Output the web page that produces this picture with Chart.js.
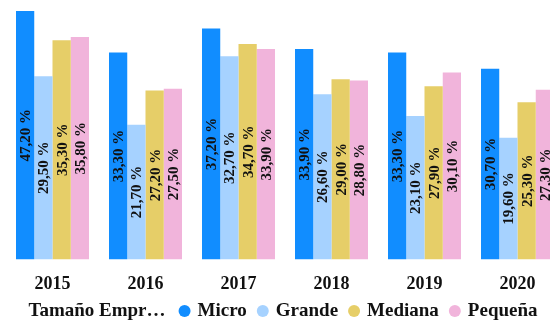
<!DOCTYPE html>
<html>
<head>
<meta charset="utf-8">
<script src="https://cdn.jsdelivr.net/npm/chart.js@4"></script>
<style>
  html, body { margin: 0; padding: 0; background: #fff; overflow: hidden; }
  #wrap { width: 566px; height: 320px; position: relative; }
</style>
</head>
<body>
<div id="wrap"><canvas id="c" width="566" height="320"></canvas></div>
<script>
const years = ['2015', '2016', '2017', '2018', '2019', '2020'];
const micro   = [47.2, 33.3, 37.2, 33.9, 33.3, 30.7];
const grande  = [29.5, 21.7, 32.7, 26.6, 23.1, 19.6];
const mediana = [35.3, 27.2, 34.7, 29.0, 27.9, 25.3];
const pequena = [35.8, 27.5, 33.9, 28.8, 30.1, 27.3];
const seriesNames = ['Micro', 'Grande', 'Mediana', 'Pequeña'];
const seriesColors = ['#118DFF', '#A6D2FF', '#E6CE68', '#F1B4DB'];
const legendTitle = 'Tamaño Empr…';

const FONT = '"Liberation Serif", "Times New Roman", serif';

// Value labels: rotated, centred in the visible part of each bar
const barLabels = {
  id: 'barLabels',
  afterDatasetsDraw(chart) {
    const { ctx, chartArea } = chart;
    ctx.save();
    ctx.font = 'bold 15px ' + FONT;
    ctx.fillStyle = '#111';
    ctx.textAlign = 'center';
    ctx.textBaseline = 'middle';
    chart.data.datasets.forEach((ds, di) => {
      chart.getDatasetMeta(di).data.forEach((bar, i) => {
        const top = Math.max(bar.y, chartArea.top);
        const cy = (top + bar.base) / 2;
        const txt = ds.data[i].toFixed(2).replace('.', ',') + ' %';
        ctx.save();
        ctx.translate(bar.x, cy);
        ctx.rotate(-Math.PI / 2);
        ctx.fillText(txt, 0, 1);
        ctx.restore();
      });
    });
    ctx.restore();
  }
};

// Single-row legend with its title inline, below the axis
const inlineLegend = {
  id: 'inlineLegend',
  afterDraw(chart) {
    const { ctx } = chart;
    const y = 311;
    const r = 6;
    ctx.save();
    ctx.font = 'bold 19px ' + FONT;
    ctx.textBaseline = 'middle';
    ctx.textAlign = 'left';
    const titleW = ctx.measureText(legendTitle).width;
    const items = chart.data.datasets.map(ds => ({
      label: ds.label, color: ds.backgroundColor, w: ctx.measureText(ds.label).width
    }));
    const gapTitle = 13, markGap = 7, itemGap = 10;
    let total = titleW + gapTitle;
    items.forEach((it, k) => { total += 2 * r + markGap + it.w + (k < items.length - 1 ? itemGap : 0); });
    let x = 283 - total / 2;
    ctx.fillStyle = '#111';
    ctx.fillText(legendTitle, x, y);
    x += titleW + gapTitle;
    items.forEach(it => {
      ctx.beginPath();
      ctx.arc(x + r, y, r, 0, Math.PI * 2);
      ctx.fillStyle = it.color;
      ctx.fill();
      x += 2 * r + markGap;
      ctx.fillStyle = '#111';
      ctx.fillText(it.label, x, y);
      x += it.w + itemGap;
    });
    ctx.restore();
  }
};

const seriesData = [micro, grande, mediana, pequena];

new Chart(document.getElementById('c'), {
  type: 'bar',
  data: {
    labels: years,
    datasets: seriesNames.map((name, k) => ({
      label: name,
      data: seriesData[k],
      backgroundColor: seriesColors[k],
      borderWidth: 0,
      categoryPercentage: 0.785,
      barPercentage: 1.0
    }))
  },
  options: {
    responsive: false,
    animation: false,
    devicePixelRatio: 1,
    layout: { padding: { left: 6, right: 2, top: 11, bottom: 19 } },
    plugins: {
      legend: { display: false },
      tooltip: { enabled: false }
    },
    scales: {
      x: {
        grid: { display: false },
        border: { display: false },
        ticks: {
          color: '#111',
          font: { family: FONT, size: 18, weight: 'bold' },
          padding: 6
        }
      },
      y: {
        display: false,
        min: 0,
        max: 40
      }
    }
  },
  plugins: [barLabels, inlineLegend]
});
</script>
</body>
</html>
